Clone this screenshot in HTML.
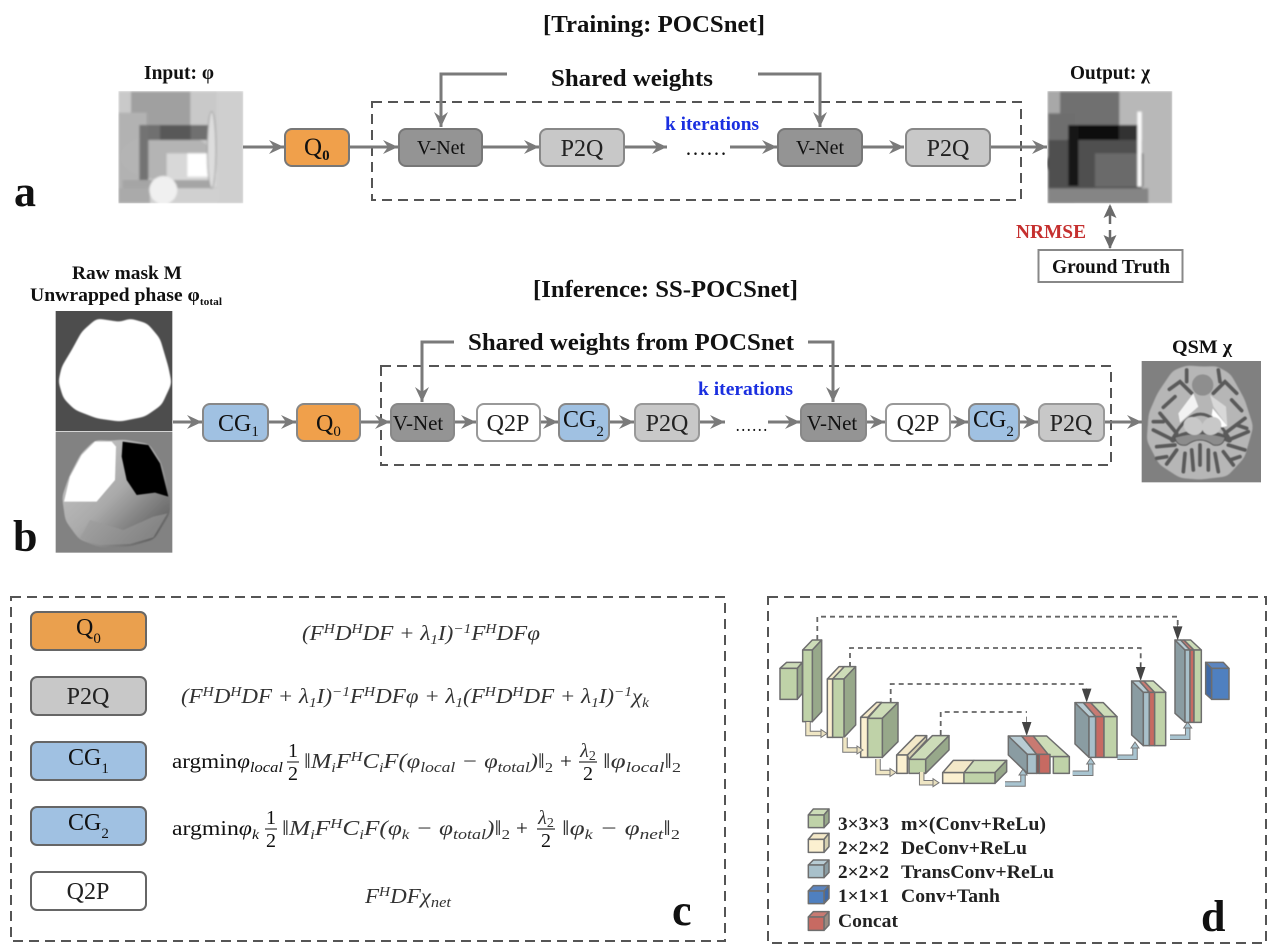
<!DOCTYPE html>
<html><head><meta charset="utf-8"><style>
html,body{margin:0;padding:0;background:#fff}
svg{display:block}
text{font-family:"Liberation Serif",serif;fill:#111}
.b{font-weight:bold}
.i{font-style:italic;fill:#333}
.bx{font-size:24px;text-anchor:middle;fill:#222}
.leg{font-size:19px;font-weight:bold;fill:#222}
.ar{stroke:#7a7a7a;stroke-width:3;fill:none;marker-end:url(#ah)}
.dash{fill:none;stroke:#555;stroke-width:2;stroke-dasharray:10 6}
.u polygon,.u rect{stroke:#6e6e6e;stroke-width:4.5;stroke-linejoin:round}
.gf{fill:#bfd2a8}.gt{fill:#cddcb8}.gs{fill:#97a88a}
.yf{fill:#fbf0d0}.yt{fill:#f3e8c8}.ys{fill:#d5d0b0}
.lf{fill:#a8c0ca}.lt{fill:#b8ccd4}.ls{fill:#8a9ca2}
.rf{fill:#c76a62}.rt{fill:#c87a72}
.sk{fill:none;stroke:#666;stroke-width:1.8;stroke-dasharray:5 4}
</style></head><body>
<svg width="1280" height="950" viewBox="0 0 1280 950" xmlns="http://www.w3.org/2000/svg">
<defs>
<marker id="ah" markerUnits="userSpaceOnUse" markerWidth="18" markerHeight="18" refX="15" refY="8" orient="auto"><path d="M0,1 L15,8 L0,15 L5,8z" fill="#7a7a7a"/></marker>
<filter id="bl" x="-5%" y="-5%" width="110%" height="110%"><feGaussianBlur stdDeviation="3"/></filter>
<filter id="bl2" x="-5%" y="-5%" width="110%" height="110%"><feGaussianBlur stdDeviation="1.500"/></filter>
<filter id="sm" x="-10%" y="-10%" width="120%" height="120%"><feGaussianBlur stdDeviation="10"/><feComponentTransfer><feFuncA type="linear" slope="8" intercept="-3.500"/></feComponentTransfer><feGaussianBlur stdDeviation="1.500"/></filter>
<clipPath id="c1"><rect x="55" y="93" width="375" height="337"/></clipPath>
<clipPath id="c2"><rect x="52" y="93" width="375" height="337"/></clipPath>
<linearGradient id="pg" x1="0" y1="0" x2="1" y2="1"><stop offset="0" stop-color="#ccc"/><stop offset=".5" stop-color="#aaa"/><stop offset="1" stop-color="#4a4a4a"/></linearGradient>
</defs>
<rect width="1280" height="950" fill="#fff"/>

<!-- Panel a -->
<text x="543" y="32" class="b" font-size="24" textLength="222" lengthAdjust="spacingAndGlyphs">[Training: POCSnet]</text>
<text x="144" y="79" class="b" font-size="20" textLength="70" lengthAdjust="spacingAndGlyphs">Input: φ</text>
<text x="1070" y="79" class="b" font-size="20" textLength="80" lengthAdjust="spacingAndGlyphs">Output: χ</text>

<g transform="translate(100,60) scale(.33333)"><g clip-path="url(#c1)"><g filter="url(#bl)">
<rect x="55" y="93" width="375" height="337" fill="#c9c9c9"/>
<rect x="350" y="93" width="80" height="337" fill="#cfcfcf"/>
<rect x="93" y="95" width="178" height="145" fill="#a0a0a0"/>
<rect x="55" y="158" width="85" height="272" fill="#b2b2b2"/>
<ellipse cx="200" cy="290" rx="140" ry="70" fill="#b4b4b4"/>
<rect x="128" y="195" width="202" height="45" fill="#707070"/>
<rect x="180" y="195" width="92" height="45" fill="#585858"/>
<rect x="118" y="195" width="27" height="183" fill="#737373"/>
<rect x="200" y="280" width="150" height="100" fill="#d8d8d8"/>
<rect x="262" y="280" width="85" height="70" fill="#fff"/>
<rect x="68" y="360" width="265" height="25" fill="#a5a5a5"/>
<rect x="150" y="385" width="205" height="45" fill="#d0d0d0"/>
<rect x="55" y="385" width="95" height="45" fill="#aaa"/>
<circle cx="190" cy="390" r="42" fill="#f0f0f0"/>
<ellipse cx="335" cy="270" rx="13" ry="115" fill="#ddd" stroke="#999" stroke-width="3"/>
</g></g></g>

<g transform="translate(1030,60) scale(.33333)"><g clip-path="url(#c2)"><g filter="url(#bl)">
<rect x="52" y="93" width="375" height="337" fill="#a8a8a8"/>
<rect x="265" y="93" width="162" height="337" fill="#b8b8b8"/>
<rect x="90" y="95" width="178" height="145" fill="#707070"/>
<rect x="55" y="160" width="80" height="270" fill="#6e6e6e"/>
<ellipse cx="190" cy="310" rx="140" ry="85" fill="#4c4c4c"/>
<rect x="55" y="240" width="280" height="150" fill="#505050"/>
<rect x="195" y="280" width="145" height="100" fill="#6a6a6a"/>
<rect x="122" y="195" width="205" height="45" fill="#333"/>
<rect x="122" y="195" width="145" height="45" fill="#111"/>
<rect x="115" y="195" width="30" height="183" fill="#151515"/>
<rect x="55" y="385" width="300" height="45" fill="#858585"/>
<rect x="322" y="155" width="13" height="225" fill="#fbfbfb"/>
</g></g></g>

<rect x="372" y="102" width="649" height="98" class="dash"/>
<text x="551" y="86" class="b" font-size="24" textLength="162" lengthAdjust="spacingAndGlyphs">Shared weights</text>
<path d="M507,74H441V127" class="ar"/>
<path d="M758,74H820V127" class="ar"/>

<path d="M243,147H284" class="ar"/>
<path d="M349,147H398" class="ar"/>
<path d="M482,147H539" class="ar"/>
<path d="M624,147H667" class="ar"/>
<path d="M730,147H777" class="ar"/>
<path d="M862,147H904" class="ar"/>
<path d="M990,147H1047" class="ar"/>

<rect x="285" y="129" width="64" height="37" rx="7" fill="#f0a04b" stroke="#777" stroke-width="2"/>
<text x="304" y="155" font-size="25" fill="#222">Q<tspan dy="5" font-size="15" font-weight="bold">0</tspan></text>
<rect x="399" y="129" width="83" height="37" rx="7" fill="#949494" stroke="#777" stroke-width="2"/>
<text x="441" y="154" font-size="20" text-anchor="middle" fill="#222">V-Net</text>
<rect x="540" y="129" width="84" height="37" rx="7" fill="#c8c8c8" stroke="#888" stroke-width="2"/>
<text x="582" y="156" class="bx">P2Q</text>
<text x="685" y="155" font-size="22" fill="#222" textLength="42" lengthAdjust="spacingAndGlyphs">……</text>
<text x="665" y="130" class="b" font-size="19" style="fill:#1a2fe0" textLength="94" lengthAdjust="spacingAndGlyphs">k iterations</text>
<rect x="778" y="129" width="84" height="37" rx="7" fill="#949494" stroke="#777" stroke-width="2"/>
<text x="820" y="154" font-size="20" text-anchor="middle" fill="#222">V-Net</text>
<rect x="906" y="129" width="84" height="37" rx="7" fill="#c8c8c8" stroke="#888" stroke-width="2"/>
<text x="948" y="156" class="bx">P2Q</text>

<text x="14" y="206" class="b" font-size="44">a</text>

<path d="M1110,206V224" stroke="#6a6a6a" stroke-width="2.500"/>
<path d="M1110,204l-6.500,14l6.500,-3l6.500,3z" fill="#6a6a6a"/>
<path d="M1110,230V248" stroke="#6a6a6a" stroke-width="2.500"/>
<path d="M1110,249l-6.500,-14l6.500,3l6.500,-3z" fill="#6a6a6a"/>
<text x="1016" y="238" class="b" font-size="20" style="fill:#c5302f" textLength="70" lengthAdjust="spacingAndGlyphs">NRMSE</text>
<rect x="1038.500" y="250" width="144" height="32" fill="#fff" stroke="#888" stroke-width="2"/>
<text x="1052" y="273" class="b" font-size="20" textLength="118" lengthAdjust="spacingAndGlyphs">Ground Truth</text>

<!-- Panel b -->
<text x="533" y="297" class="b" font-size="24" textLength="265" lengthAdjust="spacingAndGlyphs">[Inference: SS-POCSnet]</text>
<text x="72" y="279" class="b" font-size="19" textLength="110" lengthAdjust="spacingAndGlyphs">Raw mask M</text>
<text x="30" y="301" class="b" font-size="19" textLength="192" lengthAdjust="spacingAndGlyphs">Unwrapped phase φ<tspan dy="4" font-size="11">total</tspan></text>

<g transform="translate(40,300) scale(.33333)">
<rect x="47" y="33" width="350" height="360" fill="#4d4d4d"/>
<path d="M215,62 L170,55 L125,95 L95,150 L65,200 L55,245 L70,295 L105,330 L170,355 L240,365 L315,350 L365,315 L395,250 L385,200 L360,115 L322,70 L270,55 L240,66Z" fill="#fff" filter="url(#sm)"/>
<rect x="47" y="395" width="350" height="363" fill="#828282"/>
<path d="M215,422 L165,420 L122,462 L87,530 L66,590 L76,662 L117,718 L180,742 L270,739 L343,718 L390,640 L390,580 L364,488 L328,432 L250,418Z" fill="url(#pg)" filter="url(#sm)"/>
<g filter="url(#bl2)">
<path d="M215,425 L165,425 L125,465 L90,530 L72,605 L170,605 L225,540 L228,440Z" fill="#fff"/>
<path d="M248,425 L325,435 L360,490 L385,590 L345,578 L290,585 L260,540 L245,470Z" fill="#000"/>
<path d="M120,715 L180,735 L270,732 L340,712 L382,640 L340,650 L250,690 L150,660Z" fill="#999" opacity=".6"/>
</g>
</g>

<rect x="381" y="366" width="730" height="99" class="dash"/>
<text x="468" y="350" class="b" font-size="24" textLength="326" lengthAdjust="spacingAndGlyphs">Shared weights from POCSnet</text>
<path d="M454,342H422V402" class="ar"/>
<path d="M808,342H833V402" class="ar"/>
<text x="698" y="395" class="b" font-size="19" style="fill:#1a2fe0" textLength="95" lengthAdjust="spacingAndGlyphs">k iterations</text>

<path d="M173,422H202" class="ar"/>
<path d="M268,422H296" class="ar"/>
<path d="M360,422H390" class="ar"/>
<path d="M455,422H476" class="ar"/>
<path d="M540,422H558" class="ar"/>
<path d="M609,422H634" class="ar"/>
<path d="M699,422H725" class="ar"/>
<path d="M768,422H800" class="ar"/>
<path d="M866,422H885" class="ar"/>
<path d="M950,422H968" class="ar"/>
<path d="M1019,422H1038" class="ar"/>
<path d="M1104,422H1142" class="ar"/>

<rect x="203" y="404" width="65" height="37" rx="7" fill="#a0c1e2" stroke="#888" stroke-width="2"/>
<text x="218" y="431" font-size="24" fill="#222">CG<tspan dy="5" font-size="15">1</tspan></text>
<rect x="297" y="404" width="63" height="37" rx="7" fill="#f0a04b" stroke="#888" stroke-width="2"/>
<text x="316" y="431" font-size="24" fill="#222">Q<tspan dy="5" font-size="15">0</tspan></text>
<rect x="391" y="404" width="63" height="37" rx="7" fill="#949494" stroke="#888" stroke-width="2"/>
<text x="418" y="430" font-size="21" text-anchor="middle" fill="#222">V-Net</text>
<rect x="477" y="404" width="63" height="37" rx="7" fill="#fff" stroke="#999" stroke-width="2"/>
<text x="508" y="431" class="bx">Q2P</text>
<rect x="559" y="404" width="50" height="37" rx="7" fill="#a0c1e2" stroke="#888" stroke-width="2"/>
<text x="563" y="427" font-size="24" fill="#222">CG<tspan dy="9" font-size="15">2</tspan></text>
<rect x="635" y="404" width="64" height="37" rx="7" fill="#c8c8c8" stroke="#999" stroke-width="2"/>
<text x="667" y="431" class="bx">P2Q</text>
<text x="735" y="431" font-size="18" fill="#222" textLength="33" lengthAdjust="spacingAndGlyphs">……</text>
<rect x="801" y="404" width="65" height="37" rx="7" fill="#949494" stroke="#888" stroke-width="2"/>
<text x="832" y="430" font-size="21" text-anchor="middle" fill="#222">V-Net</text>
<rect x="886" y="404" width="64" height="37" rx="7" fill="#fff" stroke="#999" stroke-width="2"/>
<text x="918" y="431" class="bx">Q2P</text>
<rect x="969" y="404" width="50" height="37" rx="7" fill="#a0c1e2" stroke="#888" stroke-width="2"/>
<text x="973" y="427" font-size="24" fill="#222">CG<tspan dy="9" font-size="15">2</tspan></text>
<rect x="1039" y="404" width="65" height="37" rx="7" fill="#c8c8c8" stroke="#999" stroke-width="2"/>
<text x="1071" y="431" class="bx">P2Q</text>

<text x="1172" y="353" class="b" font-size="19" textLength="60" lengthAdjust="spacingAndGlyphs">QSM χ</text>
<g transform="translate(1130,350) scale(.33333)">
<rect x="35" y="33" width="358" height="364" fill="#808080"/>
<path d="M220,50 L170,46 L128,62 L82,130 L56,190 L50,272 L87,343 L150,384 L210,389 L292,379 L344,322 L370,230 L344,148 L302,72 L260,48Z" fill="#b6b6b6" filter="url(#sm)"/>
<g filter="url(#bl2)">
<ellipse cx="218" cy="105" rx="32" ry="32" fill="#8e8e8e"/>
<g fill="none" stroke="#5a5a5a" stroke-width="11" stroke-linecap="round">
<path d="M185,130 L150,95 L118,118 M135,140 L100,172 M170,60 L170,95 M250,130 L285,95 L320,130 M305,150 L335,182 M265,60 L270,95"/>
<path d="M140,250 L90,190 M130,270 L70,240 M135,285 L80,290 M140,300 L110,342 M165,310 L160,365 M100,215 L70,215 M110,320 L80,325"/>
<path d="M285,250 L345,205 M295,270 L355,245 M295,285 L345,300 M280,305 L310,345 M255,310 L265,365 M320,225 L350,235 M300,330 L330,320"/>
<path d="M210,285 L210,345 M185,300 L190,360 M235,300 L235,360"/>
<path d="M128,265 Q210,120 298,265" stroke-width="9"/>
<path d="M128,270 Q210,225 298,270" stroke-width="16"/>
</g>
<path d="M135,262 Q210,240 285,262 Q280,290 250,285 Q210,255 170,285 Q140,290 135,262Z" fill="#8c8c8c" stroke="#555" stroke-width="3"/>
<path d="M190,130 L145,190 L150,218 L205,170Z" fill="#f2f2f2"/>
<path d="M240,135 L250,170 L292,228 L288,170Z" fill="#d8d8d8"/>
<path d="M248,175 L292,228 L275,232 L245,195Z" fill="#fff"/>
<ellipse cx="190" cy="228" rx="30" ry="26" fill="#c8c8c8" transform="rotate(30 190 228)"/>
<ellipse cx="245" cy="228" rx="30" ry="26" fill="#c8c8c8" transform="rotate(-30 245 228)"/>
</g>
</g>

<text x="13" y="551" class="b" font-size="44">b</text>

<!-- Panel c -->
<rect x="11" y="597" width="714" height="344" class="dash"/>
<rect x="31" y="612" width="115" height="38" rx="6" fill="#eaa04e" stroke="#666" stroke-width="2"/>
<text x="76" y="635" font-size="24" fill="#222">Q<tspan dy="8" font-size="15">0</tspan></text>
<rect x="31" y="677" width="115" height="38" rx="6" fill="#c8c8c8" stroke="#666" stroke-width="2"/>
<text x="88" y="704" class="bx">P2Q</text>
<rect x="31" y="742" width="115" height="38" rx="6" fill="#a0c1e2" stroke="#666" stroke-width="2"/>
<text x="68" y="765" font-size="24" fill="#222">CG<tspan dy="8" font-size="15">1</tspan></text>
<rect x="31" y="807" width="115" height="38" rx="6" fill="#a0c1e2" stroke="#666" stroke-width="2"/>
<text x="68" y="830" font-size="24" fill="#222">CG<tspan dy="8" font-size="15">2</tspan></text>
<rect x="31" y="872" width="115" height="38" rx="6" fill="#fff" stroke="#666" stroke-width="2"/>
<text x="88" y="899" class="bx">Q2P</text>

<text x="302" y="640" class="i" font-size="21" textLength="238" lengthAdjust="spacingAndGlyphs">(F<tspan dy="-7" font-size="14">H</tspan><tspan dy="7">D</tspan><tspan dy="-7" font-size="14">H</tspan><tspan dy="7">DF + λ</tspan><tspan dy="4" font-size="14">1</tspan><tspan dy="-4">I)</tspan><tspan dy="-7" font-size="14">−1</tspan><tspan dy="7">F</tspan><tspan dy="-7" font-size="14">H</tspan><tspan dy="7">DFφ</tspan></text>

<text x="181" y="703" class="i" font-size="21" textLength="468" lengthAdjust="spacingAndGlyphs">(F<tspan dy="-7" font-size="14">H</tspan><tspan dy="7">D</tspan><tspan dy="-7" font-size="14">H</tspan><tspan dy="7">DF + λ</tspan><tspan dy="4" font-size="14">1</tspan><tspan dy="-4">I)</tspan><tspan dy="-7" font-size="14">−1</tspan><tspan dy="7">F</tspan><tspan dy="-7" font-size="14">H</tspan><tspan dy="7">DFφ + λ</tspan><tspan dy="4" font-size="14">1</tspan><tspan dy="-4">(F</tspan><tspan dy="-7" font-size="14">H</tspan><tspan dy="7">D</tspan><tspan dy="-7" font-size="14">H</tspan><tspan dy="7">DF + λ</tspan><tspan dy="4" font-size="14">1</tspan><tspan dy="-4">I)</tspan><tspan dy="-7" font-size="14">−1</tspan><tspan dy="7">χ</tspan><tspan dy="4" font-size="14">k</tspan></text>

<text x="172" y="768" font-size="21" fill="#333" textLength="111" lengthAdjust="spacingAndGlyphs">argmin<tspan font-style="italic">φ</tspan><tspan dy="4" font-size="15" font-style="italic">local</tspan></text>
<text x="293" y="757" font-size="20" text-anchor="middle" fill="#333">1</text><path d="M287,762H299" stroke="#333" stroke-width="1.200"/><text x="293" y="780" font-size="20" text-anchor="middle" fill="#333">2</text>
<text x="304" y="768" class="i" font-size="21" textLength="249" lengthAdjust="spacingAndGlyphs">‖M<tspan dy="4" font-size="14">i</tspan><tspan dy="-4">F</tspan><tspan dy="-7" font-size="14">H</tspan><tspan dy="7">C</tspan><tspan dy="4" font-size="14">i</tspan><tspan dy="-4">F(φ</tspan><tspan dy="4" font-size="15">local</tspan><tspan dy="-4"> − φ</tspan><tspan dy="4" font-size="15">total</tspan><tspan dy="-4">)‖</tspan><tspan dy="4" font-size="14" font-style="normal">2</tspan></text>
<text x="560" y="768" font-size="21" fill="#333">+</text>
<text x="588" y="757" class="i" font-size="20" text-anchor="middle">λ<tspan dy="3" font-size="14" font-style="normal">2</tspan></text><path d="M579,762H597" stroke="#333" stroke-width="1.200"/><text x="588" y="780" font-size="20" text-anchor="middle" fill="#333">2</text>
<text x="603" y="768" class="i" font-size="21" textLength="78" lengthAdjust="spacingAndGlyphs">‖φ<tspan dy="4" font-size="15">local</tspan><tspan dy="-4">‖</tspan><tspan dy="4" font-size="14" font-style="normal">2</tspan></text>

<text x="172" y="835" font-size="21" fill="#333" textLength="87" lengthAdjust="spacingAndGlyphs">argmin<tspan font-style="italic">φ</tspan><tspan dy="4" font-size="14" font-style="italic">k</tspan></text>
<text x="271" y="824" font-size="20" text-anchor="middle" fill="#333">1</text><path d="M265,829H277" stroke="#333" stroke-width="1.200"/><text x="271" y="847" font-size="20" text-anchor="middle" fill="#333">2</text>
<text x="282" y="835" class="i" font-size="21" textLength="228" lengthAdjust="spacingAndGlyphs">‖M<tspan dy="4" font-size="14">i</tspan><tspan dy="-4">F</tspan><tspan dy="-7" font-size="14">H</tspan><tspan dy="7">C</tspan><tspan dy="4" font-size="14">i</tspan><tspan dy="-4">F(φ</tspan><tspan dy="4" font-size="14">k</tspan><tspan dy="-4"> − φ</tspan><tspan dy="4" font-size="15">total</tspan><tspan dy="-4">)‖</tspan><tspan dy="4" font-size="14" font-style="normal">2</tspan></text>
<text x="516" y="835" font-size="21" fill="#333">+</text>
<text x="546" y="824" class="i" font-size="20" text-anchor="middle">λ<tspan dy="3" font-size="14" font-style="normal">2</tspan></text><path d="M537,829H555" stroke="#333" stroke-width="1.200"/><text x="546" y="847" font-size="20" text-anchor="middle" fill="#333">2</text>
<text x="562" y="835" class="i" font-size="21" textLength="118" lengthAdjust="spacingAndGlyphs">‖φ<tspan dy="4" font-size="14">k</tspan><tspan dy="-4"> − φ</tspan><tspan dy="4" font-size="15">net</tspan><tspan dy="-4">‖</tspan><tspan dy="4" font-size="14" font-style="normal">2</tspan></text>

<text x="365" y="903" class="i" font-size="21" textLength="86" lengthAdjust="spacingAndGlyphs">F<tspan dy="-7" font-size="14">H</tspan><tspan dy="7">DFχ</tspan><tspan dy="4" font-size="15">net</tspan></text>

<text x="672" y="925" class="b" font-size="44">c</text>

<!-- Panel d -->
<rect x="768" y="597" width="498" height="346" class="dash"/>
<text x="1201" y="931" class="b" font-size="44">d</text>

<path class="sk" d="M817.300,640V616.700H1177.700V628"/>
<path class="sk" d="M850,667V648H1140.700V668"/>
<path class="sk" d="M890.700,703V684H1086"/>
<path class="sk" d="M940.700,735V712H1027"/>

<g transform="translate(770,600) scale(.33333)" class="u">
<polygon class="gt" points="30,205 50,187 97,187 82,205"/><polygon class="gs" points="82,205 97,187 97,280 82,298"/><rect class="gf" x="30" y="205" width="52" height="93"/>
<polygon class="gt" points="98,150 127,120 155,120 127,150"/><polygon class="gs" points="127,150 155,120 155,335 127,365"/><rect class="gf" x="98" y="150" width="29" height="215"/>
<polygon class="yt" points="172,237 207,200 223,200 188,237"/><rect class="yf" x="172" y="237" width="16" height="175"/>
<polygon class="gt" points="188,237 223,200 257,200 222,237"/><polygon class="gs" points="222,237 257,200 257,375 222,412"/><rect class="gf" x="188" y="237" width="34" height="175"/>
<polygon class="yt" points="272,352 320,307 335,307 293,352"/><rect class="yf" x="272" y="352" width="21" height="120"/>
<polygon class="gt" points="293,355 335,308 384,308 337,355"/><polygon class="gs" points="337,355 384,308 384,425 337,472"/><rect class="gf" x="293" y="355" width="44" height="117"/>
<polygon class="ys" points="412,465 470,407 470,420 417,478"/><polygon class="yt" points="380,465 437,407 470,407 412,465"/><rect class="yf" x="380" y="465" width="32" height="55"/>
<polygon class="gt" points="417,478 487,407 537,407 467,478"/><polygon class="gs" points="467,478 537,407 537,450 467,520"/><rect class="gf" x="417" y="478" width="50" height="42"/>
<polygon class="yt" points="518,518 550,481 612,481 582,518"/><rect class="yf" x="518" y="518" width="64" height="32"/>
<polygon class="gt" points="582,518 612,481 710,481 675,518"/><polygon class="gs" points="675,518 710,481 710,515 675,550"/><rect class="gf" x="582" y="518" width="93" height="32"/>
</g>
<g fill="none" stroke-linejoin="miter">
<path d="M808,722V733.500H822M845,737.500V750H858M878,759V772.500H891M921.700,772V782.700H934" stroke="#777" stroke-width="5.500"/>
<path d="M808,722V733.500H822M845,737.500V750H858M878,759V772.500H891M921.700,772V782.700H934" stroke="#efe6c4" stroke-width="3.500"/>
<path d="M1005,784H1023V774M1072.700,773.300H1090.700V763M1117.300,757.300H1135V747M1170,737.300H1187.700V727" stroke="#777" stroke-width="5.500"/>
<path d="M1005,784H1023V774M1072.700,773.300H1090.700V763M1117.300,757.300H1135V747M1170,737.300H1187.700V727" stroke="#a8c4d0" stroke-width="3.500"/>
</g>
<g fill="#e8dfbe" stroke="#777" stroke-width="1">
<path d="M821,729.500l6,4l-6,4z"/><path d="M857,746l6,4l-6,4z"/><path d="M890,768.500l6,4l-6,4z"/><path d="M933,778.700l6,4l-6,4z"/>
</g>
<g fill="#a8c4d0" stroke="#777" stroke-width="1">
<path d="M1019,775l4,-6l4,6z"/><path d="M1086.700,764l4,-6l4,6z"/><path d="M1131,748l4,-6l4,6z"/><path d="M1183.700,728l4,-6l4,6z"/>
</g>
<g transform="translate(1000,600) scale(.33333)" class="u">
<polygon class="ls" points="25,408 82,463 82,520 25,465"/>
<polygon class="lt" points="25,408 65,408 110,463 82,463"/><polygon class="rt" points="65,408 100,408 150,463 110,463"/><polygon class="gt" points="100,408 140,408 208,470 150,470"/>
<rect class="lf" x="82" y="463" width="28" height="57"/><rect x="110" y="463" width="8" height="57" fill="#8e4f4a"/><rect class="rf" x="118" y="463" width="32" height="57"/><rect class="gf" x="160" y="470" width="48" height="50"/>

<polygon class="ls" points="225,308 267,350 267,472 225,432"/>
<polygon class="lt" points="225,308 250,308 287,350 267,350"/><polygon class="rt" points="250,308 272,308 312,350 287,350"/><polygon class="gt" points="272,308 310,308 351,350 312,350"/>
<rect class="lf" x="267" y="350" width="20" height="122"/><rect class="rf" x="287" y="350" width="25" height="122"/><rect class="gf" x="312" y="350" width="39" height="122"/>

<polygon class="ls" points="395,243 430,277 430,437 395,405"/>
<polygon class="lt" points="395,243 418,243 448,277 430,277"/><polygon class="rt" points="418,243 432,243 464,277 448,277"/><polygon class="gt" points="432,243 460,243 497,277 464,277"/>
<rect class="lf" x="430" y="277" width="18" height="160"/><rect class="rf" x="448" y="277" width="16" height="160"/><rect class="gf" x="464" y="277" width="33" height="160"/>

<polygon class="ls" points="525,120 555,150 555,367 525,340"/>
<polygon class="lt" points="525,120 542,120 570,150 555,150"/><polygon class="rt" points="542,120 552,120 582,150 570,150"/><polygon class="gt" points="552,120 572,120 604,150 582,150"/>
<rect class="lf" x="555" y="150" width="15" height="217"/><rect class="rf" x="570" y="150" width="12" height="217"/><rect class="gf" x="582" y="150" width="22" height="217"/>

<polygon points="617,187 635,205 635,298 617,282" fill="#3f6aa8"/>
<polygon points="617,187 670,187 687,205 635,205" fill="#5c85c0"/>
<rect x="635" y="205" width="52" height="93" fill="#4f80c0"/>

<path d="M533,75V118l-13,-38h26l-13,38" fill="#444" stroke="#444" stroke-width="2"/>
<path d="M422,190V240l-13,-38h26l-13,38" fill="#444" stroke="#444" stroke-width="2"/>
<path d="M260,265V305l-13,-38h26l-13,38" fill="#444" stroke="#444" stroke-width="2"/>
<path d="M80,350V405l-13,-38h26l-13,38" fill="#444" stroke="#444" stroke-width="2"/>
</g>

<!-- Legend -->
<g transform="translate(790,795) scale(.33333)" class="u">
<polygon class="gt" points="55,60 70,42 117,42 102,60"/><polygon class="gs" points="102,60 117,42 117,82 102,98"/><rect class="gf" x="55" y="60" width="47" height="38"/>
<polygon class="yt" points="55,133 70,115 117,115 102,133"/><polygon class="ys" points="102,133 117,115 117,155 102,172"/><rect class="yf" x="55" y="133" width="47" height="39"/>
<polygon class="lt" points="55,210 70,195 117,195 102,210"/><polygon class="ls" points="102,210 117,195 117,232 102,248"/><rect class="lf" x="55" y="210" width="47" height="38"/>
<polygon points="55,288 70,272 117,272 102,288" fill="#5c85c0"/><polygon points="102,288 117,272 117,310 102,326" fill="#3f6aa8"/><rect x="55" y="288" width="47" height="38" fill="#4f80c0"/>
<polygon class="rt" points="55,366 70,350 117,350 102,366"/><polygon points="102,366 117,350 117,390 102,406" fill="#9a8a80"/><rect class="rf" x="55" y="366" width="47" height="40"/>
</g>
<text x="838" y="830" class="leg" textLength="51" lengthAdjust="spacingAndGlyphs">3×3×3</text><text x="901" y="830" class="leg" textLength="145" lengthAdjust="spacingAndGlyphs">m×(Conv+ReLu)</text>
<text x="838" y="854" class="leg" textLength="51" lengthAdjust="spacingAndGlyphs">2×2×2</text><text x="901" y="854" class="leg" textLength="126" lengthAdjust="spacingAndGlyphs">DeConv+ReLu</text>
<text x="838" y="878" class="leg" textLength="51" lengthAdjust="spacingAndGlyphs">2×2×2</text><text x="901" y="878" class="leg" textLength="153" lengthAdjust="spacingAndGlyphs">TransConv+ReLu</text>
<text x="838" y="902" class="leg" textLength="51" lengthAdjust="spacingAndGlyphs">1×1×1</text><text x="901" y="902" class="leg" textLength="99" lengthAdjust="spacingAndGlyphs">Conv+Tanh</text>
<text x="838" y="927" class="leg" textLength="60" lengthAdjust="spacingAndGlyphs">Concat</text>
</svg>
</body></html>
